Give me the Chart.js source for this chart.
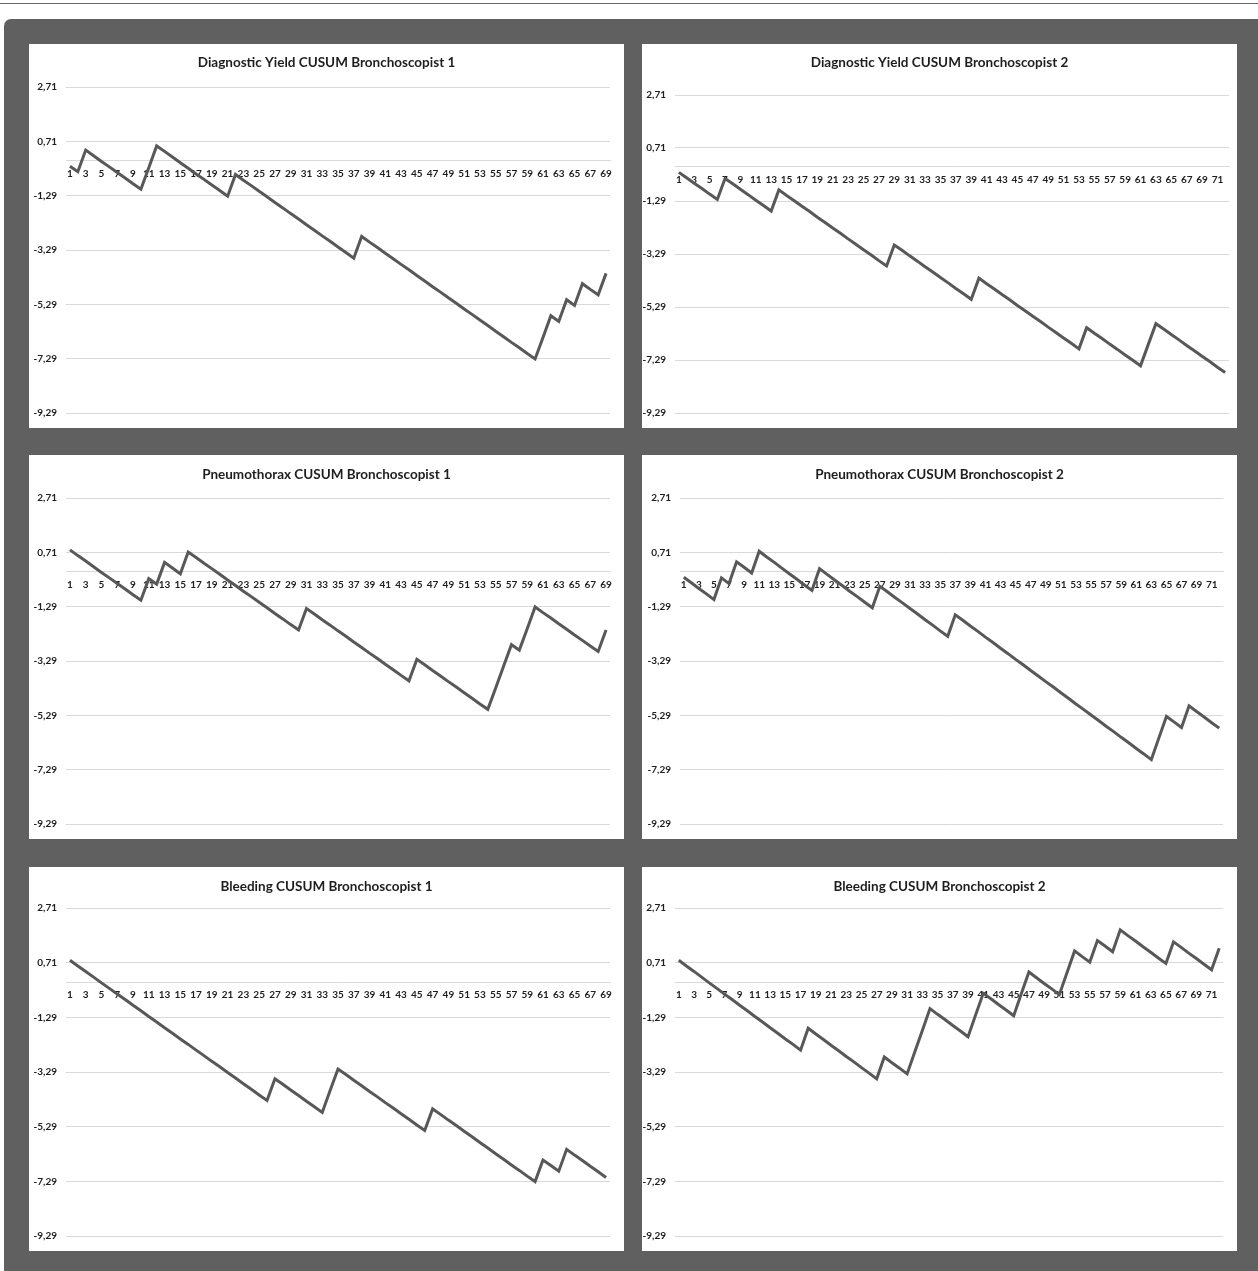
<!DOCTYPE html>
<html>
<head>
<meta charset="utf-8">
<script src="https://cdn.jsdelivr.net/npm/chart.js@4.4.1/dist/chart.umd.min.js"></script>
<style>
  html, body { margin: 0; padding: 0; background: #fff; }
  #page { position: relative; width: 1258px; height: 1271px; overflow: hidden; }
  #topline { position: absolute; left: 0; top: 3px; width: 1258px; height: 1px; background: #6a6a6a; }
  #frame { position: absolute; left: 4px; top: 19px; right: 0; bottom: 0; background: #606060; border-top-left-radius: 7px; }
  .panel { position: absolute; width: 595px; height: 384px; background: #fff; }
  .panel canvas { display: block; }
</style>
</head>
<body>
<div id="page">
  <div id="topline"></div>
  <div id="frame"></div>
  <div class="panel" style="left:29px;top:44px"><canvas id="c1" width="595" height="384"></canvas></div>
  <div class="panel" style="left:642px;top:44px"><canvas id="c2" width="595" height="384"></canvas></div>
  <div class="panel" style="left:29px;top:455px"><canvas id="c3" width="595" height="384"></canvas></div>
  <div class="panel" style="left:642px;top:455px"><canvas id="c4" width="595" height="384"></canvas></div>
  <div class="panel" style="left:29px;top:867px"><canvas id="c5" width="595" height="384"></canvas></div>
  <div class="panel" style="left:642px;top:867px"><canvas id="c6" width="595" height="384"></canvas></div>
</div>
<script>
// Case numbers (x categories)
const cases69 = [1, 2, 3, 4, 5, 6, 7, 8, 9, 10, 11, 12, 13, 14, 15, 16, 17, 18, 19, 20,
  21, 22, 23, 24, 25, 26, 27, 28, 29, 30, 31, 32, 33, 34, 35, 36, 37, 38, 39, 40,
  41, 42, 43, 44, 45, 46, 47, 48, 49, 50, 51, 52, 53, 54, 55, 56, 57, 58, 59, 60,
  61, 62, 63, 64, 65, 66, 67, 68, 69];
const cases72 = [1, 2, 3, 4, 5, 6, 7, 8, 9, 10, 11, 12, 13, 14, 15, 16, 17, 18, 19, 20,
  21, 22, 23, 24, 25, 26, 27, 28, 29, 30, 31, 32, 33, 34, 35, 36, 37, 38, 39, 40,
  41, 42, 43, 44, 45, 46, 47, 48, 49, 50, 51, 52, 53, 54, 55, 56, 57, 58, 59, 60,
  61, 62, 63, 64, 65, 66, 67, 68, 69, 70, 71, 72];

// Y axis tick labels
const yTicks = [2.71, 0.71, -1.29, -3.29, -5.29, -7.29, -9.29];

const titles = [
  'Diagnostic Yield CUSUM Bronchoscopist 1',
  'Diagnostic Yield CUSUM Bronchoscopist 2',
  'Pneumothorax CUSUM Bronchoscopist 1',
  'Pneumothorax CUSUM Bronchoscopist 2',
  'Bleeding CUSUM Bronchoscopist 1',
  'Bleeding CUSUM Bronchoscopist 2'
];

// CUSUM values
const yieldB1 = [-0.21, -0.41, 0.39, 0.18, -0.03, -0.23, -0.44, -0.64, -0.85, -1.05,
  -0.26, 0.54, 0.34, 0.13, -0.08, -0.28, -0.49, -0.69, -0.90, -1.10,
  -1.31, -0.51, -0.72, -0.92, -1.13, -1.33, -1.54, -1.74, -1.95, -2.15,
  -2.36, -2.56, -2.77, -2.97, -3.18, -3.38, -3.59, -2.79, -3.00, -3.20,
  -3.41, -3.61, -3.82, -4.02, -4.23, -4.43, -4.64, -4.84, -5.05, -5.25,
  -5.46, -5.66, -5.87, -6.07, -6.28, -6.48, -6.69, -6.89, -7.10, -7.30,
  -6.51, -5.71, -5.92, -5.12, -5.33, -4.53, -4.74, -4.94, -4.15];

const yieldB2 = [-0.21, -0.41, -0.62, -0.82, -1.03, -1.23, -0.44, -0.64, -0.85, -1.05,
  -1.26, -1.46, -1.67, -0.87, -1.08, -1.28, -1.49, -1.69, -1.90, -2.10,
  -2.31, -2.51, -2.72, -2.92, -3.13, -3.33, -3.54, -3.74, -2.95, -3.15,
  -3.36, -3.56, -3.77, -3.97, -4.18, -4.38, -4.59, -4.79, -5.00, -4.20,
  -4.41, -4.61, -4.82, -5.02, -5.23, -5.43, -5.64, -5.84, -6.05, -6.25,
  -6.46, -6.66, -6.87, -6.07, -6.28, -6.48, -6.69, -6.89, -7.10, -7.30,
  -7.51, -6.71, -5.92, -6.12, -6.33, -6.53, -6.74, -6.94, -7.15, -7.35,
  -7.56, -7.76];

const pneumoB1 = [0.80, 0.59, 0.39, 0.18, -0.03, -0.23, -0.44, -0.64, -0.85, -1.05,
  -0.26, -0.46, 0.34, 0.13, -0.08, 0.72, 0.52, 0.31, 0.11, -0.10,
  -0.31, -0.51, -0.72, -0.92, -1.13, -1.33, -1.54, -1.74, -1.95, -2.15,
  -1.36, -1.56, -1.77, -1.97, -2.18, -2.38, -2.59, -2.79, -3.00, -3.20,
  -3.41, -3.61, -3.82, -4.02, -3.23, -3.43, -3.64, -3.84, -4.05, -4.25,
  -4.46, -4.66, -4.87, -5.07, -4.28, -3.48, -2.69, -2.89, -2.10, -1.30,
  -1.51, -1.71, -1.92, -2.12, -2.33, -2.53, -2.74, -2.94, -2.15];

const pneumoB2 = [-0.21, -0.41, -0.62, -0.82, -1.03, -0.23, -0.44, 0.36, 0.16, -0.05,
  0.75, 0.54, 0.34, 0.13, -0.08, -0.28, -0.49, -0.69, 0.11, -0.10,
  -0.31, -0.51, -0.72, -0.92, -1.13, -1.33, -0.54, -0.74, -0.95, -1.15,
  -1.36, -1.56, -1.77, -1.97, -2.18, -2.38, -1.59, -1.79, -2.00, -2.20,
  -2.41, -2.61, -2.82, -3.02, -3.23, -3.43, -3.64, -3.84, -4.05, -4.25,
  -4.46, -4.66, -4.87, -5.07, -5.28, -5.48, -5.69, -5.89, -6.10, -6.30,
  -6.51, -6.71, -6.92, -6.12, -5.33, -5.53, -5.74, -4.94, -5.15, -5.35,
  -5.56, -5.76];

const bleedB1 = [0.80, 0.59, 0.39, 0.18, -0.03, -0.23, -0.44, -0.64, -0.85, -1.05,
  -1.26, -1.46, -1.67, -1.87, -2.08, -2.28, -2.49, -2.69, -2.90, -3.10,
  -3.31, -3.51, -3.72, -3.92, -4.13, -4.33, -3.54, -3.74, -3.95, -4.15,
  -4.36, -4.56, -4.77, -3.97, -3.18, -3.38, -3.59, -3.79, -4.00, -4.20,
  -4.41, -4.61, -4.82, -5.02, -5.23, -5.43, -4.64, -4.84, -5.05, -5.25,
  -5.46, -5.66, -5.87, -6.07, -6.28, -6.48, -6.69, -6.89, -7.10, -7.30,
  -6.51, -6.71, -6.92, -6.12, -6.33, -6.53, -6.74, -6.94, -7.15];

const bleedB2 = [0.80, 0.59, 0.39, 0.18, -0.03, -0.23, -0.44, -0.64, -0.85, -1.05,
  -1.26, -1.46, -1.67, -1.87, -2.08, -2.28, -2.49, -1.69, -1.90, -2.10,
  -2.31, -2.51, -2.72, -2.92, -3.13, -3.33, -3.54, -2.74, -2.95, -3.15,
  -3.36, -2.56, -1.77, -0.97, -1.18, -1.38, -1.59, -1.79, -2.00, -1.20,
  -0.41, -0.61, -0.82, -1.02, -1.23, -0.43, 0.37, 0.16, -0.05, -0.25,
  -0.46, 0.34, 1.14, 0.93, 0.73, 1.52, 1.32, 1.11, 1.91, 1.70,
  1.50, 1.29, 1.09, 0.88, 0.68, 1.47, 1.27, 1.06, 0.86, 0.65,
  0.45, 1.24];

// plot area inside each white panel (px): left edge, right/bottom gaps, top edge, title centre
const boxes = [
  { left: 37, right: 14, top: 43, bottom: 12, title: 19 },
  { left: 33, right: 8, top: 51, bottom: 6, title: 19 },
  { left: 37, right: 14, top: 43, bottom: 12, title: 20 },
  { left: 38, right: 14, top: 43, bottom: 12, title: 20 },
  { left: 37, right: 14, top: 41, bottom: 13, title: 20 },
  { left: 33, right: 14, top: 41, bottom: 13, title: 20 }
];

Chart.defaults.font.family = 'Lato';

const tickFont = { family: 'Lato', size: 10, weight: 'bold' };

function makeChart(id, title, cases, values, box) {
  const lh = 13.5 * 1.2;
  return new Chart(document.getElementById(id), {
    type: 'line',
    data: {
      labels: cases,
      datasets: [{
        data: values,
        borderColor: '#585858',
        borderWidth: 3,
        pointRadius: 0,
        tension: 0,
        fill: false
      }]
    },
    options: {
      responsive: false,
      animation: false,
      layout: { padding: { left: 0, right: 0, top: 0, bottom: box.bottom } },
      plugins: {
        legend: { display: false },
        tooltip: { enabled: false },
        title: {
          display: true,
          text: title,
          color: '#1e1e1e',
          font: { family: 'Lato', size: 13.5, weight: 'bold' },
          padding: { top: box.title - lh / 2, bottom: box.top - box.title - lh / 2 }
        }
      },
      scales: {
        x: {
          type: 'category',
          position: { y: 0 },
          offset: true,
          grid: { display: false, drawTicks: false },
          border: { display: true, color: '#d9d9d9', width: 1 },
          ticks: {
            autoSkip: false,
            maxRotation: 0,
            minRotation: 0,
            padding: 7,
            color: '#1e1e1e',
            font: tickFont,
            callback: (v, i) => (i % 2 === 0 ? String(cases[i]) : null)
          }
        },
        y: {
          min: -9.29,
          max: 2.71,
          afterBuildTicks: s => { s.ticks = yTicks.map(v => ({ value: v })); },
          afterFit: s => { s.width = box.left; },
          grid: { color: '#d9d9d9', lineWidth: 1, drawTicks: false },
          border: { display: false },
          ticks: {
            padding: 9,
            color: '#1e1e1e',
            font: tickFont,
            callback: v => v.toFixed(2).replace('.', ',')
          }
        },
        // empty right-hand spacer, keeps the title centred on the whole panel
        gap: {
          axis: 'y',
          position: 'right',
          afterFit: s => { s.width = box.right; },
          grid: { display: false, drawTicks: false },
          border: { display: false },
          ticks: { display: false }
        }
      }
    }
  });
}

makeChart('c1', titles[0], cases69, yieldB1, boxes[0]);
makeChart('c2', titles[1], cases72, yieldB2, boxes[1]);
makeChart('c3', titles[2], cases69, pneumoB1, boxes[2]);
makeChart('c4', titles[3], cases72, pneumoB2, boxes[3]);
makeChart('c5', titles[4], cases69, bleedB1, boxes[4]);
makeChart('c6', titles[5], cases72, bleedB2, boxes[5]);
</script>
</body>
</html>
